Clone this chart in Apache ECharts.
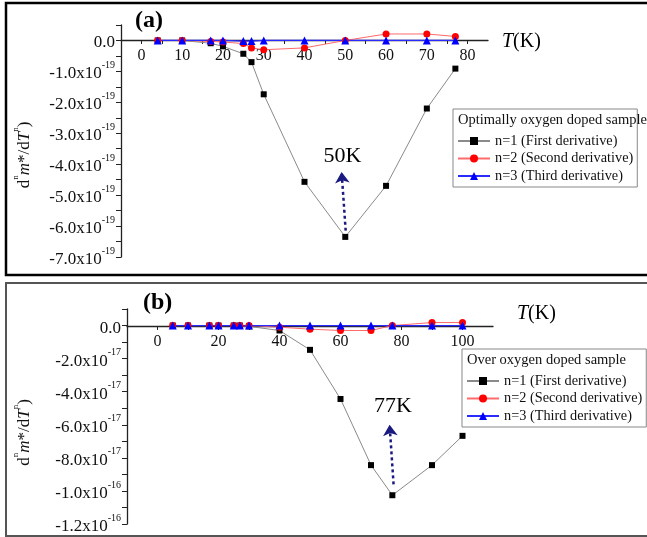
<!DOCTYPE html>
<html><head><meta charset="utf-8">
<script src="https://cdn.jsdelivr.net/npm/echarts@6/dist/echarts.min.js"></script>
<style>html,body{margin:0;padding:0;background:#fff}#c{width:647px;height:537px}</style>
</head><body><div id="c"></div>
<script>
// ---- data (panel a: y in units of 1e-19; panel b: y in units of 1e-17) ----
const tA = [4, 10, 17, 20, 25, 27, 30, 40, 50, 60, 70, 77];
const a_n1 = [0, 0, -0.09, -0.19, -0.43, -0.70, -1.74, -4.57, -6.35, -4.70, -2.20, -0.91];
const a_n2 = [0, 0, -0.03, -0.05, -0.10, -0.24, -0.30, -0.24, 0, 0.21, 0.21, 0.13];
const a_n3 = [0, 0, 0, 0, -0.02, -0.02, 0, 0, 0, 0, 0, 0];
const expA = -19;

const tB = [5, 10, 17, 20, 25, 27, 30, 40, 50, 60, 70, 77, 90, 100];
const b_n1 = [0, 0, 0, 0, 0, 0, -0.05, -0.30, -1.47, -4.44, -8.44, -10.26, -8.44, -6.67];
const b_n2 = [0, 0, 0, 0, 0, 0, 0, -0.10, -0.22, -0.30, -0.30, 0, 0.18, 0.18];
const b_n3 = [0, 0, 0, 0, 0, 0, 0, 0, 0, 0, 0, 0, 0, 0];
const expB = -17;

const xTicksA = [0, 10, 20, 30, 40, 50, 60, 70, 80];
const yTicksA = [-7, -6, -5, -4, -3, -2, -1, 0];
const xTicksB = [0, 20, 40, 60, 80, 100];
const yTicksB = [-12, -10, -8, -6, -4, -2, 0];

const seriesNames = ['n=1 (First derivative)', 'n=2 (Second derivative)', 'n=3 (Third derivative)'];
const titleA = 'Optimally oxygen doped sample';
const titleB = 'Over oxygen doped sample';
const peakA = {T: 50, label: '50K'};
const peakB = {T: 77, label: '77K'};

const F = 'Liberation Serif, Times New Roman, serif';
function zip(x, y) { return x.map((v, i) => [v, y[i]]); }
function steps(a, b, s) { const r = []; for (let v = a; v <= b + 1e-9; v += s) r.push(+v.toFixed(6)); return r; }
function fmt(exp0) {
  return function (v) {
    if (Math.abs(v) < 1e-9) return '{m|0.0}';
    const real = v * Math.pow(10, exp0);
    const e = Math.floor(Math.log10(Math.abs(real)) + 1e-9);
    const m = real / Math.pow(10, e);
    return '{m|' + m.toFixed(1) + 'x10}{e|' + e + '}';
  };
}
const richLab = {
  m: {fontFamily: F, fontSize: 17, color: '#111', lineHeight: 22, verticalAlign: 'bottom'},
  e: {fontFamily: F, fontSize: 10, color: '#111', lineHeight: 12, verticalAlign: 'top'}
};
const yName = '{t|d}{s|n}{i|m}{t|*/d}{i|T}{s|n}{t|)}';
function richName() {
  return {
    t: {fontFamily: F, fontSize: 17, color: '#111', lineHeight: 22, verticalAlign: 'bottom'},
    i: {fontFamily: F, fontSize: 17, fontStyle: 'italic', color: '#111', lineHeight: 22, verticalAlign: 'bottom'},
    s: {fontFamily: F, fontSize: 9, color: '#111', lineHeight: 11, verticalAlign: 'top'}
  };
}

function mkSeries(gi, t, d1, d2, d3, peak, arrowFrom, arrowTo, labelAt) {
  return [
    {name: seriesNames[0], type: 'line', xAxisIndex: gi, yAxisIndex: gi, data: zip(t, d1),
     symbol: 'rect', symbolSize: 6, itemStyle: {color: '#000'}, lineStyle: {color: '#8a8a8a', width: 1},
     markLine: {silent: true, symbol: ['none', 'arrow'], symbolSize: 11,
       lineStyle: {color: '#1a1a80', width: 2.5, type: [3, 3]}, label: {show: false},
       data: [[{coord: arrowFrom}, {coord: arrowTo}]]},
     markPoint: {symbol: 'circle', symbolSize: 0, silent: true,
       label: {show: true, position: 'inside', formatter: peak.label, fontFamily: F, fontSize: 22, color: '#000'},
       data: [{coord: labelAt}]}},
    {name: seriesNames[1], type: 'line', xAxisIndex: gi, yAxisIndex: gi, data: zip(t, d2),
     symbol: 'circle', symbolSize: 7, itemStyle: {color: '#ff0000'}, lineStyle: {color: '#ff6a6a', width: 1}},
    {name: seriesNames[2], type: 'line', xAxisIndex: gi, yAxisIndex: gi, data: zip(t, d3),
     symbol: 'triangle', symbolSize: 8, itemStyle: {color: '#0000ff'}, lineStyle: {color: '#2a2aff', width: 1.3}}
  ];
}

function xAx(gi, min, max, labs, ticks, off) {
  return {type: 'value', gridIndex: gi, min: min, max: max, position: 'bottom', offset: off,
    axisLine: {onZero: false, lineStyle: {color: '#222', width: 1.3}},
    axisTick: {show: true, length: 4, customValues: ticks, lineStyle: {color: '#222'}},
    axisLabel: {customValues: labs, fontFamily: F, fontSize: 16, color: '#111', margin: 8},
    splitLine: {show: false}};
}
function yAx(gi, min, max, labs, ticks, exp0, gap, shift) {
  return {type: 'value', gridIndex: gi, min: min, max: max,
    name: yName, nameLocation: 'middle', nameRotate: 90, nameGap: gap,
    nameTextStyle: {rich: richName(), padding: [0, shift, 0, 0]},
    axisLine: {show: true, onZero: false, lineStyle: {color: '#222', width: 1.3}},
    axisTick: {show: true, length: 5, customValues: ticks, lineStyle: {color: '#222'}},
    axisLabel: {customValues: labs, formatter: fmt(exp0), rich: richLab, margin: 6},
    splitLine: {show: false}};
}

const legendBase = {data: seriesNames, orient: 'vertical', itemWidth: 32, itemHeight: 10, itemGap: 3.5,
  padding: [25, 4, 4, 4], backgroundColor: '#fff', borderColor: '#888', borderWidth: 1,
  textStyle: {fontFamily: F, fontSize: 14.3, color: '#111'}, selectedMode: false};

const option = {
  animation: false,
  backgroundColor: '#fff',
  grid: [
    {left: 121, top: 25, width: 367, height: 232},
    {left: 127, top: 309, width: 366, height: 215}
  ],
  xAxis: [xAx(0, -5, 85, xTicksA, steps(0, 80, 5), -217), xAx(1, -10, 110, xTicksB, steps(0, 100, 10), -198)],
  yAxis: [yAx(0, -7, 0.5, yTicksA, steps(-7, 0.5, 0.5), expA, 88, 28), yAx(1, -12, 1, yTicksB, steps(-12, 1, 1), expB, 94, 32)],
  legend: [
    Object.assign({}, legendBase, {left: 453, top: 109}),
    Object.assign({}, legendBase, {left: 462, top: 349})
  ],
  series: [].concat(
    mkSeries(0, tA, a_n1, a_n2, a_n3, peakA, [50.1, -6.15], [49.1, -4.25], [49.3, -3.75]),
    mkSeries(1, tB, b_n1, b_n2, b_n3, peakB, [77.4, -9.6], [76.1, -6.0], [77.2, -4.9])
  ),
  graphic: [
    {type: 'rect', shape: {x: 6, y: 3, width: 660, height: 272}, style: {fill: 'none', stroke: '#000', lineWidth: 2.5}, silent: true},
    {type: 'rect', shape: {x: 6, y: 283, width: 660, height: 253}, style: {fill: 'none', stroke: '#555', lineWidth: 2}, silent: true},
    {type: 'text', left: 135, top: 9, style: {text: '(a)', font: 'bold 24px ' + F, fill: '#000'}},
    {type: 'text', left: 143, top: 291, style: {text: '(b)', font: 'bold 24px ' + F, fill: '#000'}},
    {type: 'text', left: 502, top: 32, style: {text: '{i|T}{n|(K)}', rich: {i: {fontFamily: F, fontSize: 20, fontStyle: 'italic', fill: '#000'}, n: {fontFamily: F, fontSize: 20, fill: '#000'}}}},
    {type: 'text', left: 517, top: 304, style: {text: '{i|T}{n|(K)}', rich: {i: {fontFamily: F, fontSize: 20, fontStyle: 'italic', fill: '#000'}, n: {fontFamily: F, fontSize: 20, fill: '#000'}}}},
    {type: 'text', left: 458, top: 113, z: 100, style: {text: titleA, font: '14.5px ' + F, fill: '#111'}},
    {type: 'text', left: 467, top: 353, z: 100, style: {text: titleB, font: '14.5px ' + F, fill: '#111'}}
  ]
};
const chart = echarts.init(document.getElementById('c'), null, {renderer: 'canvas'});
chart.setOption(option);
</script></body></html>
